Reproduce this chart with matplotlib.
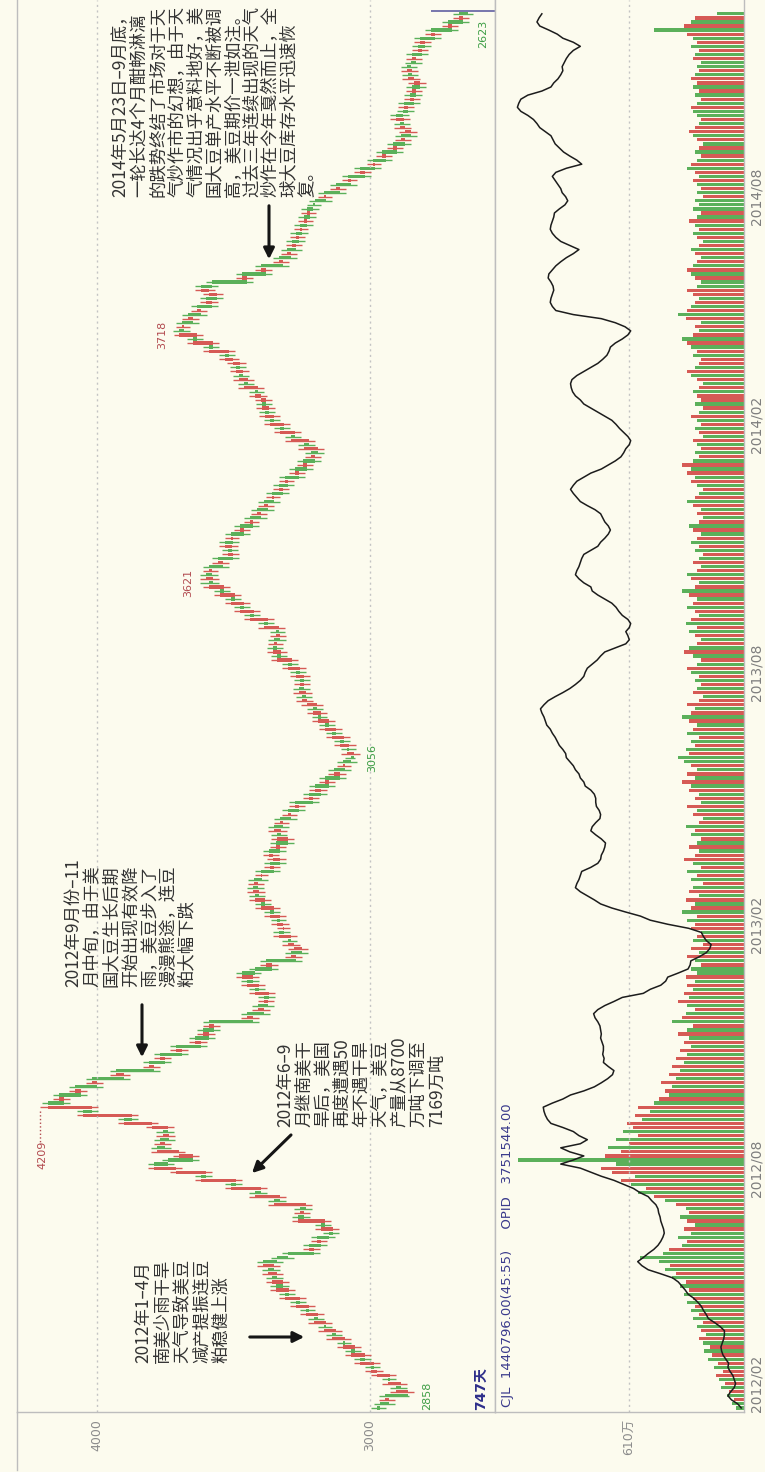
"""
豆粕 日K线（旋转版面）2012/02 ~ 2014/09
价格 / 成交量 / 持仓量，时间轴自下而上
"""

import numpy as np
import matplotlib.pyplot as plt
from matplotlib.patches import FancyArrowPatch
from matplotlib.lines import Line2D

plt.rcParams['font.family'] = ['DejaVu Sans', 'Noto Sans CJK SC']

# ── 数据 ──────────────────────────────────────────────────────────────────────
# 每根K线约两个交易日，收盘价
closes = [
    2965, 2930, 2945, 2862, 2905, 2885, 2935, 2925, 2975, 2995,
    2985, 3035, 3020, 3070, 3055, 3100, 3090, 3140, 3125, 3170,
    3160, 3205, 3190, 3235, 3225, 3270, 3255, 3310, 3295, 3345,
    3320, 3360, 3340, 3375, 3350, 3392, 3340, 3300, 3205, 3225,
    3180, 3195, 3150, 3135, 3180, 3165, 3265, 3240, 3255, 3235,
    3350, 3330, 3420, 3400, 3510, 3490, 3620, 3600, 3710, 3790,
    3740, 3650, 3700, 3780, 3750, 3770, 3735, 3760, 3740, 3800,
    3900, 3870, 4050, 4020, 4180, 4120, 4140, 4060, 4080, 4000,
    4020, 3900, 3930, 3790, 3810, 3750, 3770, 3690, 3710, 3620,
    3640, 3590, 3610, 3570, 3590, 3430, 3450, 3390, 3410, 3375,
    3390, 3370, 3420, 3405, 3450, 3430, 3470, 3420, 3360, 3380,
    3270, 3290, 3250, 3280, 3300, 3290, 3335, 3315, 3320, 3340,
    3330, 3365, 3350, 3400, 3385, 3420, 3405, 3430, 3410, 3425,
    3395, 3400, 3350, 3365, 3330, 3355, 3370, 3330, 3345, 3300,
    3340, 3325, 3350, 3320, 3330, 3290, 3300, 3260, 3275, 3210,
    3225, 3180, 3200, 3150, 3165, 3110, 3130, 3090, 3100, 3070,
    3060, 3085, 3075, 3110, 3095, 3140, 3125, 3165, 3150, 3190,
    3180, 3210, 3195, 3230, 3250, 3235, 3260, 3240, 3255, 3240,
    3270, 3255, 3300, 3285, 3340, 3325, 3355, 3340, 3350, 3330,
    3345, 3335, 3390, 3375, 3440, 3425, 3475, 3460, 3510, 3495,
    3550, 3535, 3590, 3575, 3600, 3580, 3590, 3540, 3555, 3500,
    3520, 3505, 3530, 3500, 3510, 3460, 3475, 3430, 3440, 3400,
    3415, 3375, 3390, 3350, 3360, 3320, 3335, 3300, 3310, 3260,
    3275, 3230, 3245, 3200, 3215, 3190, 3240, 3225, 3290, 3275,
    3330, 3315, 3365, 3350, 3385, 3370, 3395, 3380, 3400, 3420,
    3410, 3460, 3445, 3480, 3465, 3490, 3475, 3500, 3530, 3515,
    3590, 3575, 3650, 3635, 3700, 3680, 3690, 3650, 3665, 3620,
    3635, 3580, 3600, 3560, 3590, 3620, 3580, 3450, 3470, 3380,
    3400, 3320, 3335, 3290, 3305, 3270, 3285, 3260, 3270, 3250,
    3255, 3230, 3240, 3220, 3230, 3210, 3200, 3160, 3170, 3110,
    3125, 3070, 3080, 3020, 3035, 2980, 2990, 2940, 2955, 2900,
    2915, 2870, 2885, 2850, 2870, 2890, 2875, 2905, 2880, 2860,
    2875, 2840, 2855, 2830, 2845, 2815, 2840, 2860, 2845, 2865,
    2850, 2830, 2845, 2810, 2825, 2800, 2815, 2760, 2775, 2700,
    2715, 2660, 2675, 2640,
]
first_open = 2975

# 成交量（万手）
volumes = [
    40, 65, 55, 90, 80, 120, 100, 130, 150, 110,
    160, 140, 190, 170, 210, 180, 220, 240, 200, 230,
    250, 220, 270, 240, 280, 260, 300, 270, 320, 290,
    340, 310, 380, 360, 420, 390, 450, 550, 430, 400,
    330, 300, 350, 280, 320, 260, 300, 340, 290, 310,
    360, 420, 480, 560, 520, 600, 650, 580, 700, 760,
    680, 1200, 740, 650, 720, 610, 680, 560, 640, 590,
    620, 540, 580, 500, 560, 480, 450, 400, 420, 380,
    440, 360, 400, 340, 380, 320, 360, 300, 340, 280,
    320, 290, 350, 300, 270, 380, 330, 310, 260, 300,
    350, 290, 320, 270, 300, 260, 310, 250, 280, 230,
    260, 300, 240, 280, 220, 270, 250, 230, 280, 260,
    300, 250, 330, 280, 260, 310, 240, 290, 270, 220,
    280, 250, 300, 230, 270, 320, 260, 240, 290, 250,
    230, 280, 260, 310, 240, 220, 270, 250, 300, 230,
    260, 240, 290, 280, 330, 260, 300, 250, 280, 320,
    350, 290, 310, 260, 280, 240, 300, 270, 250, 290,
    330, 280, 260, 300, 240, 220, 270, 250, 230, 260,
    240, 280, 300, 250, 230, 270, 320, 290, 250, 230,
    260, 290, 250, 310, 280, 240, 260, 300, 270, 250,
    290, 330, 260, 240, 280, 300, 250, 230, 270, 240,
    220, 260, 240, 280, 250, 230, 270, 290, 240, 220,
    250, 230, 270, 300, 260, 240, 220, 250, 280, 260,
    300, 280, 330, 270, 240, 260, 230, 250, 270, 220,
    240, 260, 230, 250, 280, 240, 220, 260, 230, 250,
    270, 240, 220, 250, 280, 300, 260, 240, 230, 270,
    250, 280, 300, 330, 270, 240, 260, 230, 310, 350,
    300, 280, 260, 240, 270, 300, 250, 230, 260, 280,
    300, 270, 250, 230, 260, 280, 240, 220, 250, 270,
    240, 260, 290, 250, 230, 270, 240, 260, 220, 250,
    230, 250, 270, 240, 260, 300, 280, 250, 230, 260,
    240, 220, 250, 270, 290, 260, 240, 230, 250, 270,
    280, 250, 230, 260, 240, 270, 250, 280, 260, 240,
    250, 230, 270, 260, 240, 280, 250, 270, 300, 480,
    320, 280, 260, 144,
]

# 持仓量（万手）
open_interest = [
    90, 95, 104, 109, 105, 100, 98, 100, 102, 106,
    109, 108, 112, 116, 118, 119, 117, 115, 114, 114,
    120, 128, 137, 140, 144, 147, 152, 158, 166, 170,
    175, 180, 188, 205, 223, 232, 238, 230, 223, 215,
    209, 205, 202, 200, 201, 203, 205, 206, 208, 209,
    212, 218, 223, 235, 244, 258, 272, 290, 305, 320,
    348, 330, 315, 335, 348, 320, 310, 322, 330, 345,
    362, 367, 370, 372, 373, 360, 345, 334, 315, 300,
    290, 281, 274, 272, 280, 287, 286, 288, 287, 287,
    289, 291, 290, 291, 292, 295, 299, 301, 295, 285,
    272, 260, 230, 220, 205, 198, 195, 180, 166, 163,
    162, 150, 140, 135, 133, 140, 144, 147, 165, 195,
    220, 234, 255, 275, 291, 300, 310, 320, 327, 325,
    322, 320, 318, 305, 295, 291, 290, 287, 285, 284,
    290, 298, 305, 303, 298, 292, 291, 293, 297, 298,
    298, 300, 305, 313, 315, 320, 322, 327, 330, 335,
    340, 341, 345, 350, 353, 356, 360, 363, 368, 370,
    372, 375, 377, 372, 366, 356, 345, 335, 327, 320,
    315, 313, 310, 303, 296, 291, 285, 270, 255, 250,
    252, 255, 250, 248, 252, 260, 265, 269, 275, 285,
    295, 303, 305, 315, 322, 327, 325, 322, 320, 318,
    315, 305, 295, 291, 285, 280, 277, 280, 285, 288,
    291, 299, 310, 320, 325, 330, 334, 330, 325, 315,
    305, 290, 280, 270, 262, 258, 255, 250, 248, 252,
    258, 264, 269, 275, 285, 295, 305, 315, 320, 327,
    331, 333, 334, 332, 325, 315, 305, 295, 288, 282,
    279, 277, 270, 260, 252, 248, 256, 270, 290, 330,
    355, 360, 363, 362, 360, 358, 359, 362, 366, 365,
    360, 355, 348, 340, 330, 322, 335, 348, 355, 360,
    363, 362, 360, 358, 357, 350, 342, 338, 341, 346,
    348, 352, 356, 360, 355, 340, 318, 325, 335, 344,
    350, 356, 359, 362, 370, 378, 382, 387, 395, 405,
    410, 408, 405, 395, 375, 362, 358, 352, 348, 345,
    346, 343, 340, 336, 330, 320, 330, 345, 353, 365,
    378, 382, 379, 375,
]

month_labels = ["2012/02", "2012/08", "2013/02", "2013/08", "2014/02", "2014/08"]
month_pos    = [6, 59, 119, 181, 242, 298]

price_ticks = [4000, 3000]
vol_tick    = 610

# 标注的高低点: 序号 -> 价格
hi_marks = {74: 4209, 203: 3621, 264: 3718}
lo_marks = {3: 2858, 160: 3056, 343: 2623}

header = "CJL  1440796.00(45:55)     OPID   3751544.00"
bars_text = "747天"

notes = [
    ["2012年1–4月", "南美少雨干旱", "天气导致美豆", "减产提振连豆", "粕稳健上涨"],
    ["2012年6–9", "月继南美干", "旱后，美国", "再度遭遇50", "年不遇干旱",
     "天气，美豆", "产量从8700", "万吨下调至", "7169万吨"],
    ["2012年9月份–11", "月中旬，由于美", "国大豆生长后期", "开始出现有效降",
     "雨，美豆步入了", "漫漫熊途，连豆", "粕大幅下跌"],
    ["2014年5月23日–9月底，", "一轮长达4个月酣畅淋漓", "的跌势终结了市场对于天",
     "气炒作市的幻想，由于天", "气情况出乎意料地好，美", "国大豆单产水平不断被调",
     "高，美豆期价一泄如注。", "过去三年连续出现的天气", "炒作在今年戛然而止，全",
     "球大豆库存水平迅速恢", "复。"],
]

assert len(closes) == len(volumes) == len(open_interest)

# ── 版面 ──────────────────────────────────────────────────────────────────────
W, H = 765, 1472
BG = "#FCFBEE"
RED, GREEN = "#D65A55", "#5BB05A"
GRID = "#C4C4C4"
FRAME = "#BDBDBD"


def P(x, y):
    return x / W, 1 - y / H


fig = plt.figure(figsize=(W / 100, H / 100), dpi=100, facecolor=BG)
ax_p = fig.add_axes([17 / W, 1 - 1412 / H, (495 - 17) / W, 1412 / H], facecolor=BG)
ax_v = fig.add_axes([495 / W, 1 - 1412 / H, (744 - 495) / W, 1412 / H], facecolor=BG)
ax_o = ax_v.twiny()

# ── K线 ───────────────────────────────────────────────────────────────────────
c = np.array(closes, float)
o = np.r_[first_open, c[:-1]]
n = len(c)
idx = np.arange(n)
cols = np.where(c >= o, RED, GREEN)
hi = np.maximum(o, c) + 22
lo = np.minimum(o, c) - 22
for i, v in hi_marks.items():
    hi[i] = v
for i, v in lo_marks.items():
    lo[i] = v

ax_p.hlines(idx, lo, hi, colors=cols, lw=1.0)
ax_p.barh(idx, c - o, left=o, height=0.8, color=cols, linewidth=0)

ax_p.set_xlim(4293, 2542)
ax_p.set_ylim(-1, 346.4)
ax_p.set_xticks(price_ticks)
ax_p.set_xticklabels([str(t) for t in price_ticks], rotation=90, color="#8C8C8C", fontsize=9)
ax_p.tick_params(axis="x", length=0, pad=5)
ax_p.set_yticks([])
ax_p.grid(axis="x", color=GRID, linestyle=(0, (1.5, 2.5)), lw=1)

# 当前K线的光标线
ax_p.hlines(n - 1 + 0.6, hi[-1] + 80, ax_p.get_xlim()[1], colors="#6C6CA8", lw=1.3)

for i, v in hi_marks.items():
    if v == max(hi_marks.values()):
        ax_p.annotate(str(v), (v, i), xytext=(3, -48), textcoords="offset pixels",
                      rotation=90, ha="center", va="center", color="#B24A4F", fontsize=8)
        ax_p.plot([v, v], [i - 1, i - 9], ls=":", color="#B24A4F", lw=1)
    else:
        ax_p.annotate(str(v), (v, i), xytext=(-12, 0), textcoords="offset pixels",
                      rotation=90, ha="center", va="center", color="#B24A4F", fontsize=8)
for i, v in lo_marks.items():
    dx, dy, va = (10, -6, "top") if i == n - 1 else (18, 0, "center")
    ax_p.annotate(str(v), (v, i), xytext=(dx, dy), textcoords="offset pixels",
                  rotation=90, ha="center", va=va, color="#3E9E45", fontsize=8)

# ── 成交量 / 持仓量 ────────────────────────────────────────────────────────────
ax_v.barh(idx, volumes, left=0, height=0.8, color=cols, linewidth=0)
ax_v.set_xlim(1321, 0)
ax_v.set_ylim(-1, 346.4)
ax_v.set_xticks([vol_tick])
ax_v.set_xticklabels([f"{vol_tick}万"], rotation=90, color="#8C8C8C", fontsize=9)
ax_v.tick_params(axis="x", length=0, pad=5)
ax_v.grid(axis="x", color=GRID, linestyle=(0, (1.5, 2.5)), lw=1)
ax_v.yaxis.tick_right()
ax_v.set_yticks(month_pos)
ax_v.set_yticklabels(month_labels, rotation=90, va="center", color="#7E7E7E", fontsize=10)
ax_v.tick_params(axis="y", length=0, pad=4)

ax_o.plot(open_interest, idx, color="#1C1C1C", lw=1.1)
ax_o.set_xlim(442, 86)
ax_o.set_xticks([])
for s in ax_o.spines.values():
    s.set_visible(False)

for ax in (ax_p, ax_v):
    ax.spines["top"].set_visible(False)
    for k in ("left", "right", "bottom"):
        ax.spines[k].set_color(FRAME)
        ax.spines[k].set_linewidth(1)

fig.add_artist(Line2D([17 / W, 17 / W], [1 - 1470 / H, 1 - 1412 / H], color=FRAME, lw=1))

# ── 文字 ──────────────────────────────────────────────────────────────────────
fig.text(*P(481, 1410), bars_text, rotation=90, ha="center", va="bottom",
         color="#2E2E8A", fontsize=10, fontweight="bold")
fig.text(*P(507, 1407), header, rotation=90, ha="center", va="bottom",
         color="#3A3A8C", fontsize=9.5)

note_layout = [(143, 1363, 19.5), (285, 1127, 19), (73, 987, 19), (120, 197, 18.8)]
for lines, (x0, y0, step) in zip(notes, note_layout):
    for k, line in enumerate(lines):
        fig.text(*P(x0 + k * step, y0), line, rotation=90, ha="center", va="bottom",
                 color="#333333", fontsize=12.5, fontweight="light",
                 family=["Noto Sans CJK SC", "DejaVu Sans"])

arrows = [((247, 1337), (307, 1337)), ((293, 1133), (250, 1175)),
          ((142, 1002), (142, 1060)), ((269, 203), (269, 262))]
for a, b in arrows:
    fig.add_artist(FancyArrowPatch(P(*a), P(*b), transform=fig.transFigure,
                                   arrowstyle="-|>", mutation_scale=16, lw=2.2, color="#151515"))

fig.savefig("out.png", dpi=100, facecolor=BG)
